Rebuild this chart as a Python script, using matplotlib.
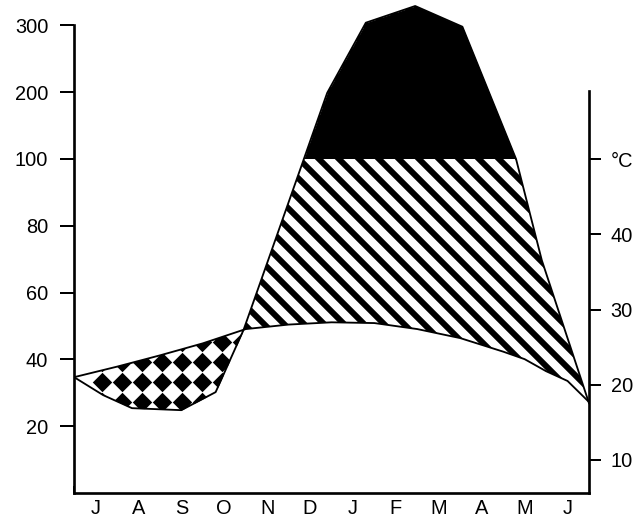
import numpy as np
import matplotlib
matplotlib.use("Agg")
import matplotlib.pyplot as plt
from matplotlib.patches import Polygon

# --- data (month position 0 = start of July) ---
months = ["J", "A", "S", "O", "N", "D", "J", "F", "M", "A", "M", "J"]

prec_pos = [0, 0.68, 1.35, 2.5, 3.3, 3.95, 5.9, 6.8, 7.95, 9.05, 10.3, 10.9, 12]
prec_mm = [34.7, 29.3, 25.4, 24.8, 30.2, 48.8, 199, 304, 329, 298, 100, 69.7, 26.9]

temp_pos = [0, 1, 2, 3, 4, 5, 6, 7, 8, 9, 10, 10.5, 11, 11.5, 12]
temp_c = [21.0, 22.4, 23.9, 25.5, 27.4, 28.0, 28.3, 28.2, 27.4, 26.2, 24.4, 23.4, 21.8, 20.5, 17.7]

prec_ticks = [20, 40, 60, 80, 100, 200, 300]
temp_ticks = [10, 20, 30, 40, 50]
temp_labels = ["10", "20", "30", "40", "°C"]

P_MAX, T_MIN, T_MAX = 335, 5.6, 70.9


def fwd(p):
    # precipitation above 100 mm drawn at 1/5 scale
    p = np.asarray(p, float)
    return np.where(p <= 100, p, 100 + (p - 100) / 5)


def inv(f):
    f = np.asarray(f, float)
    return np.where(f <= 100, f, 100 + (f - 100) * 5)


DPI = 120
plt.rcParams["font.family"] = ["Liberation Sans", "DejaVu Sans"]
plt.rcParams["font.size"] = 12
plt.rcParams["hatch.linewidth"] = 3.6

fig = plt.figure(figsize=(638 / DPI, 517 / DPI), dpi=DPI)
ax = fig.add_axes([74 / 638, 24 / 517, 515 / 638, 491 / 517])
ax.set_yscale("function", functions=(fwd, inv))
ax.set_xlim(0, 12)
ax.set_ylim(0, P_MAX)
ax2 = ax.twinx()
ax2.set_ylim(T_MIN, T_MAX)

tpts = list(zip(temp_pos, temp_c))
under_t = Polygon([(0, T_MIN)] + tpts + [(12, T_MIN)], closed=True, transform=ax2.transData)
above_t = Polygon([(0, T_MAX)] + tpts + [(12, T_MAX)], closed=True, transform=ax2.transData)
above_100 = Polygon([(0, 100), (12, 100), (12, P_MAX), (0, P_MAX)], closed=True, transform=ax.transData)

# dry season: diamond pattern under temperature curve
gx = np.arange(28 / 515, 1, 20 / 515)
gy = np.arange((111 / 491) % (20 / 491), 1, 20 / 491)
GX, GY = np.meshgrid(gx, gy)
dots = ax.scatter(GX.ravel(), GY.ravel(), s=68, marker="D", c="black", linewidths=0,
                  transform=ax.transAxes, zorder=1)
dots.set_clip_path(under_t)

# white under precipitation removes diamonds outside the dry area
ax.fill_between(prec_pos, 0, prec_mm, color="white", lw=0, zorder=2)

# humid season: hatching
hatch = ax.fill_between(prec_pos, 0, prec_mm, facecolor="white", edgecolor="black",
                        hatch="\\\\", lw=0, zorder=3)
hatch.set_clip_path(above_t)

# perhumid (> 100 mm): solid black
black = ax.fill_between(prec_pos, 0, prec_mm, color="black", lw=0, zorder=4)
black.set_clip_path(above_100)

ax.plot(prec_pos, prec_mm, color="black", lw=1.1, zorder=5)
ax2.plot(temp_pos, temp_c, color="black", lw=1.1, zorder=5)

# axes cosmetics
for s in ("top", "right"):
    ax.spines[s].set_visible(False)
for s in ("top", "left", "bottom"):
    ax2.spines[s].set_visible(False)
ax.spines["left"].set_bounds(0, 300)
ax2.spines["right"].set_bounds(T_MIN, 59.0)
for sp in (ax.spines["left"], ax.spines["bottom"], ax2.spines["right"]):
    sp.set_linewidth(1.6)

ax.set_yticks(prec_ticks, labels=[str(t) for t in prec_ticks])
ax.yaxis.set_minor_locator(matplotlib.ticker.NullLocator())
ax.tick_params(axis="y", direction="out", length=8.4, width=1.2, pad=7)

ax.set_xticks(range(13), labels=[""] * 13)
ax.set_xticks(np.arange(12) + 0.5, labels=months, minor=True)
ax.tick_params(axis="x", which="major", direction="in", length=4.2, width=1.2)
ax.tick_params(axis="x", which="minor", length=0, pad=3.5)

ax2.set_yticks(temp_ticks, labels=temp_labels)
ax2.tick_params(axis="y", direction="out", length=7, width=1.2, pad=6)

fig.savefig("out.png", dpi=DPI)
